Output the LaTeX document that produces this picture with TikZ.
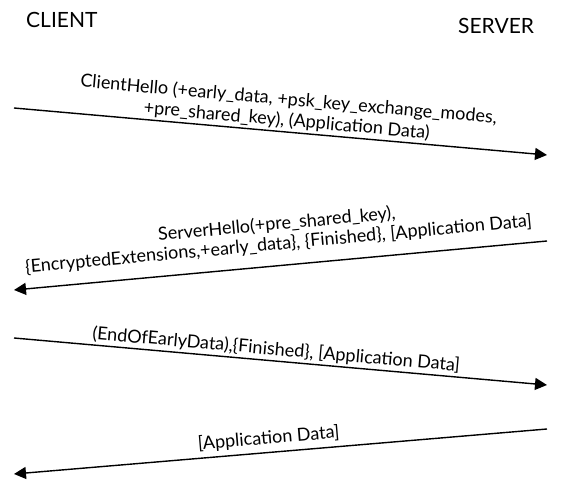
\documentclass[tikz,border=0pt]{standalone}
\usepackage{fontspec}
\setmainfont{Lato}
\usetikzlibrary{arrows.meta,positioning}

\begin{document}
\begin{tikzpicture}[
    x=1pt, y=-1pt,
    font=\fontsize{18}{21}\selectfont,
    party/.style={font=\fontsize{21}{24}\selectfont, inner sep=0pt, anchor=north west},
    msg/.style={align=center, inner sep=2pt, sloped},
    arr/.style={-{Triangle[length=12pt,width=12pt]}, line width=1.4pt},
  ]
    \useasboundingbox (0,0) rectangle (568,489);

    \node[party] (client) at (26,12) {CLIENT};
    \node[party] (server) at (458,18) {SERVER};

    % message end points, client side left, server side right
    \coordinate (hello c) at (14,108);
    \coordinate (hello s) at (547,155);
    \coordinate (shello s) at (547,241);
    \coordinate (shello c) at (14,290);
    \coordinate (fin c) at (14,338);
    \coordinate (fin s) at (547,385);
    \coordinate (app s) at (547,429);
    \coordinate (app c) at (14,474);

    \draw[arr] (hello c) -- node[msg, above=0pt, pos=0.51] (hello) {
      ClientHello (+early\_data, +psk\_key\_exchange\_modes,\\
      +pre\_shared\_key), (Application Data)
    } (hello s);

    \draw[arr] (shello s) -- node[msg, above=10pt, pos=0.5] (shello) {
      ServerHello(+pre\_shared\_key),\\[-1pt]
      \{EncryptedExtensions,+early\_data\}, \{Finished\}, [Application Data]
    } (shello c);

    \draw[arr] (fin c) -- node[msg, above=0pt, pos=0.49] (fin) {(EndOfEarlyData),\{Finished\}, [Application Data]} (fin s);

    \draw[arr] (app s) -- node[msg, above=3pt, pos=0.52] (app) {[Application Data]} (app c);
\end{tikzpicture}
\end{document}
